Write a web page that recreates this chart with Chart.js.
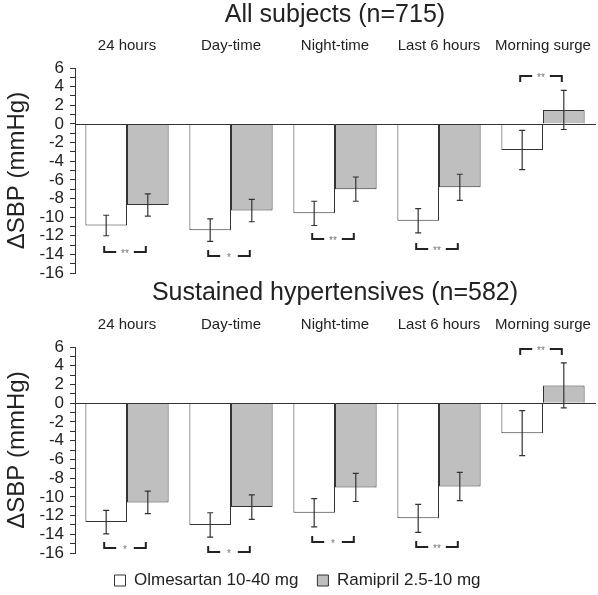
<!DOCTYPE html>
<html>
<head>
<meta charset="utf-8">
<script src="https://cdn.jsdelivr.net/npm/chart.js@4.4.1/dist/chart.umd.min.js"></script>
<style>
  html, body { margin: 0; padding: 0; background: #fff; }
  #wrap { width: 598px; height: 595px; position: relative; }
  .box { position: absolute; left: 0; width: 598px; }
  #top-box { top: 0; height: 278px; }
  #bottom-box { top: 278px; height: 317px; }
</style>
</head>
<body>
<div id="wrap">
  <div class="box" id="top-box"><canvas id="all-chart"></canvas></div>
  <div class="box" id="bottom-box"><canvas id="sus-chart"></canvas></div>
</div>
<script>
// categories
const categories = ['24 hours', 'Day-time', 'Night-time', 'Last 6 hours', 'Morning surge'];
const seriesNames = ['Olmesartan 10-40 mg', 'Ramipril 2.5-10 mg'];

// All subjects (n=715)
const allOlm = [-10.9, -11.4, -9.6, -10.4, -2.8];
const allOlmErr = [1.1, 1.2, 1.3, 1.3, 2.1];
const allRam = [-8.7, -9.3, -7.0, -6.8, 1.5];
const allRamErr = [1.2, 1.2, 1.3, 1.4, 2.1];
const allSig = ['**', '*', '**', '**', '**'];
const allBracketY = [-13.7, -14.2, -12.3, -13.4, 5.1];

// Sustained hypertensives (n=582)
const susOlm = [-12.7, -13.0, -11.7, -12.3, -3.2];
const susOlmErr = [1.25, 1.3, 1.5, 1.5, 2.4];
const susRam = [-10.6, -11.1, -9.0, -8.9, 1.9];
const susRamErr = [1.2, 1.3, 1.5, 1.5, 2.4];
const susSig = ['*', '*', '*', '**', '**'];
const susBracketY = [-15.5, -15.9, -14.8, -15.4, 5.8];

const FONT = "Arial, 'Liberation Sans', sans-serif";
Chart.defaults.font.family = FONT;

// error bars, zero line and significance brackets
function makeMarks(sig, bracketY) {
  return {
    id: 'marks',
    afterDatasetsDraw(chart) {
      const ctx = chart.ctx;
      const y = chart.scales.y;
      const area = chart.chartArea;
      ctx.save();

      // zero line
      const y0 = Math.round(y.getPixelForValue(0)) + 0.5;
      ctx.strokeStyle = '#333';
      ctx.lineWidth = 1;
      ctx.beginPath();
      ctx.moveTo(area.left, y0);
      ctx.lineTo(area.right + 1, y0);
      ctx.stroke();

      // error bars
      ctx.strokeStyle = '#333';
      ctx.lineWidth = 1.2;
      chart.data.datasets.forEach((ds, i) => {
        chart.getDatasetMeta(i).data.forEach((bar, j) => {
          const hi = y.getPixelForValue(ds.data[j] + ds.errors[j]);
          const lo = y.getPixelForValue(ds.data[j] - ds.errors[j]);
          const x = bar.x;
          ctx.beginPath();
          ctx.moveTo(x, hi); ctx.lineTo(x, lo);
          ctx.moveTo(x - 3, hi); ctx.lineTo(x + 3, hi);
          ctx.moveTo(x - 3, lo); ctx.lineTo(x + 3, lo);
          ctx.stroke();
        });
      });

      // brackets
      const m0 = chart.getDatasetMeta(0).data;
      const m1 = chart.getDatasetMeta(1).data;
      sig.forEach((s, j) => {
        const x1 = m0[j].x - 2, x2 = m1[j].x - 2;
        const by = Math.round(y.getPixelForValue(bracketY[j]));
        const hook = bracketY[j] < 0 ? -6 : 6;
        ctx.strokeStyle = '#222';
        ctx.lineWidth = 2;
        ctx.beginPath();
        ctx.moveTo(x1, by + hook); ctx.lineTo(x1, by); ctx.lineTo(x1 + 12, by);
        ctx.moveTo(x2 - 12, by); ctx.lineTo(x2, by); ctx.lineTo(x2, by + hook);
        ctx.stroke();
        ctx.fillStyle = '#777';
        ctx.font = '10px ' + FONT;
        ctx.textAlign = 'center';
        ctx.textBaseline = 'middle';
        ctx.fillText(s, (x1 + x2) / 2, by + 2);
      });
      ctx.restore();
    }
  };
}

function makeChart(canvasId, title, olm, olmErr, ram, ramErr, sig, bracketY, showLegend, xHeight) {
  return new Chart(document.getElementById(canvasId), {
    type: 'bar',
    data: {
      labels: categories,
      datasets: [
        { label: seriesNames[0], data: olm, errors: olmErr, backgroundColor: '#ffffff', borderColor: '#333333', borderWidth: 1 },
        { label: seriesNames[1], data: ram, errors: ramErr, backgroundColor: '#bfbfbf', borderColor: '#333333', borderWidth: 1 }
      ]
    },
    options: {
      responsive: true,
      maintainAspectRatio: false,
      animation: false,
      datasets: { bar: { categoryPercentage: 0.8, barPercentage: 1.0 } },
      layout: { padding: { left: 0, right: 3, top: 0, bottom: showLegend ? -4 : 5 } },
      plugins: {
        title: {
          display: true, text: title, fullSize: false,
          font: { size: 25, weight: 'normal' }, color: '#222',
          padding: { top: 0, bottom: 1 }
        },
        legend: {
          display: showLegend,
          position: 'bottom',
          labels: { boxWidth: 11, boxHeight: 11, padding: 19, color: '#222', font: { size: 17 } }
        },
        tooltip: { enabled: false }
      },
      scales: {
        x: {
          position: 'top',
          grid: { display: false, drawTicks: false },
          border: { display: false },
          ticks: { color: '#222', font: { size: 15 }, padding: 13, maxRotation: 0 },
          afterFit: s => { s.height = xHeight; s.paddingLeft = 0; s.paddingRight = 0; }
        },
        y: {
          min: -16, max: 6,
          ticks: {
            stepSize: 1, autoSkip: false, color: '#222', font: { size: 17 }, padding: 6,
            callback: v => (v % 2 === 0 ? String(v) : '')
          },
          grid: { drawOnChartArea: false, tickLength: 5, color: '#333' },
          border: { color: '#333' },
          title: { display: true, text: 'ΔSBP (mmHg)', color: '#222', font: { size: 24 }, padding: { top: 3, bottom: 0 } },
          afterFit: s => { s.width = 75; s.paddingTop = 0; s.paddingBottom = 0; }
        }
      }
    },
    plugins: [makeMarks(sig, bracketY)]
  });
}

makeChart('all-chart', 'All subjects (n=715)', allOlm, allOlmErr, allRam, allRamErr, allSig, allBracketY, false, 37);
makeChart('sus-chart', 'Sustained hypertensives (n=582)', susOlm, susOlmErr, susRam, susRamErr, susSig, susBracketY, true, 38);
</script>
</body>
</html>
